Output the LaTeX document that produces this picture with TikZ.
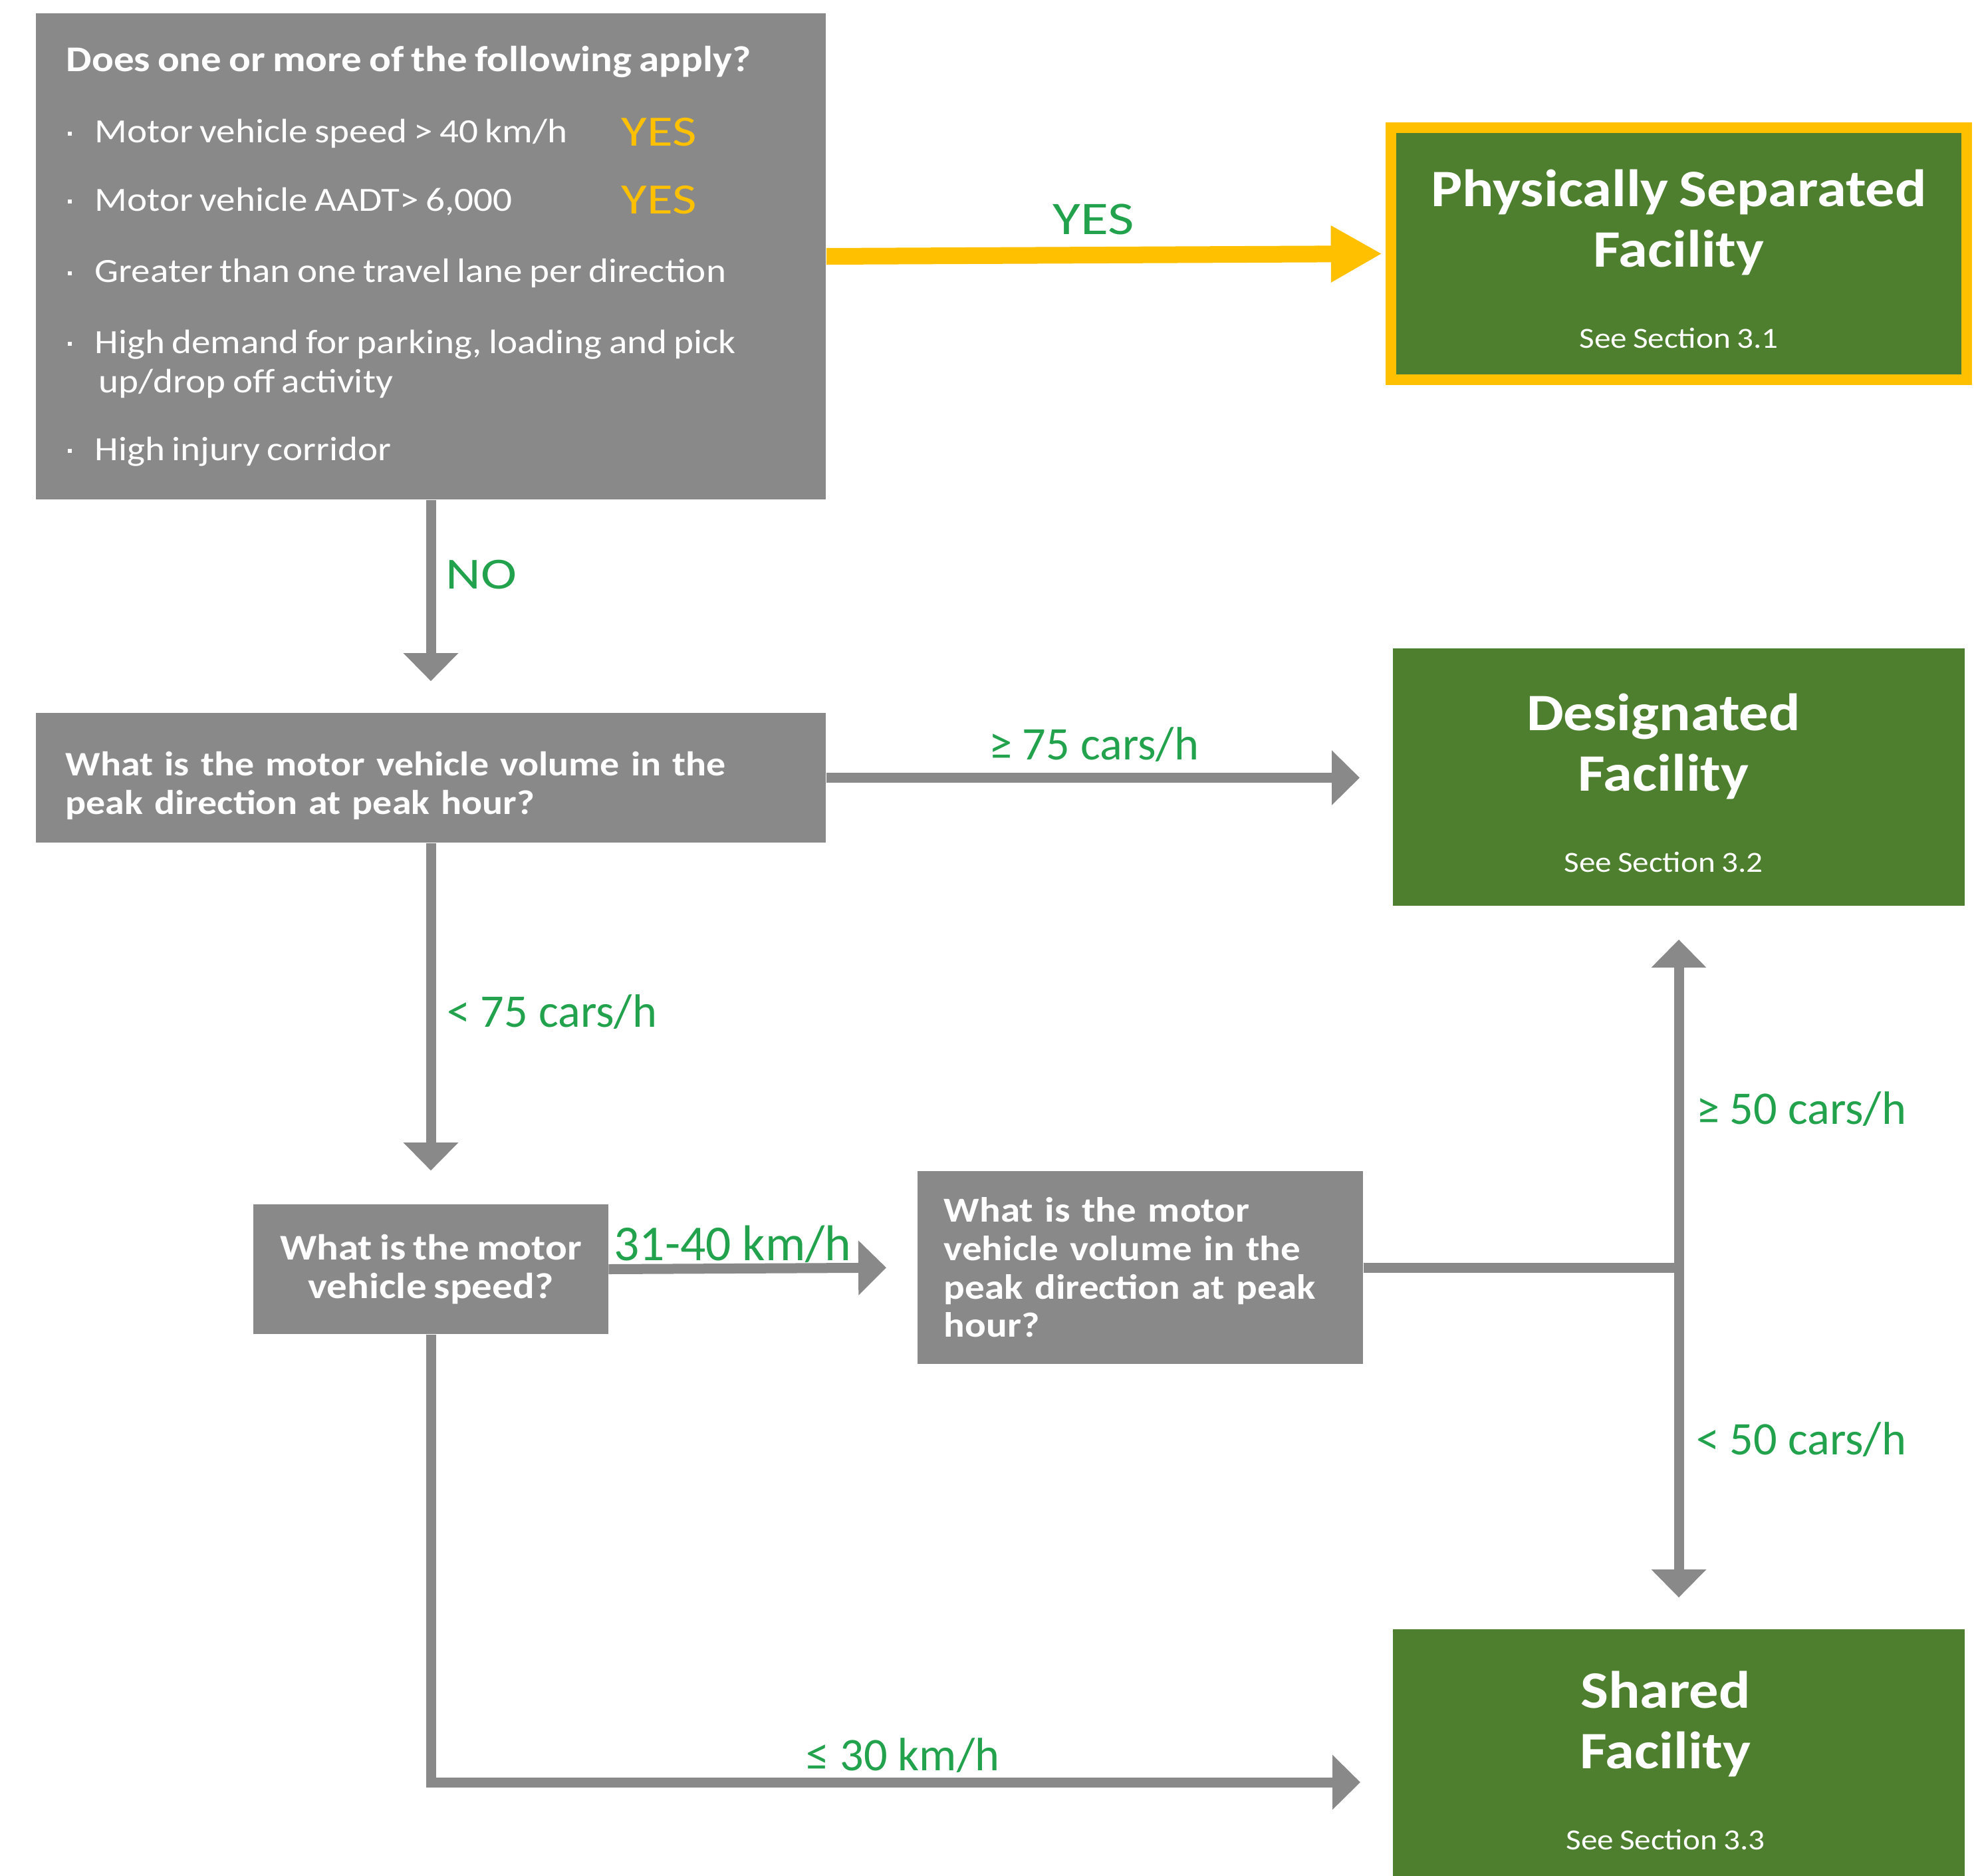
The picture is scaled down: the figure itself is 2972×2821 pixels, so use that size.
\documentclass[tikz,border=0pt]{standalone}
\usepackage{fontspec}
\setmainfont{Carlito}
\newfontfamily\boxfont{Carlito}[FakeStretch=1.12, WordSpace=0.8]
\newfontfamily\widefont{Carlito}[FakeStretch=1.22]
\usepackage{xcolor}
\usetikzlibrary{arrows.meta, positioning}

\definecolor{boxgray}{HTML}{898989}
\definecolor{facgreen}{HTML}{4D7F2E}
\definecolor{yesyellow}{HTML}{FFC000}
\definecolor{lblgreen}{HTML}{22A24C}

\newcommand{\sqbullet}{\llap{\raisebox{0.11cm}{\rule{0.06cm}{0.06cm}}\hspace{0.35cm}}}

\begin{document}
\begin{tikzpicture}[x=0.01cm, y=-0.01cm,
    qbox/.style={fill=boxgray, inner sep=0pt, text=white, font=\boxfont\fontsize{15}{16.4}\selectfont\bfseries},
    fac/.style={fill=facgreen, inner sep=0pt, minimum width=8.6cm},
    fac_title/.style={text=white, align=center, inner sep=0pt, font=\boxfont\fontsize{22.5}{26}\selectfont\bfseries},
    fac_sec/.style={text=white, inner sep=0pt, font=\boxfont\fontsize{12.5}{15}\selectfont},
    cond_item/.style={anchor=west, text=white, align=left, inner sep=0pt, font=\boxfont\fontsize{14.5}{16.8}\selectfont},
    yes_mark/.style={text=yesyellow, inner sep=0pt, font=\widefont\fontsize{18.5}{20}\selectfont},
    lbl/.style={text=lblgreen, inner sep=0pt, font=\fontsize{20}{24}\selectfont},
    flow_line/.style={draw=boxgray, line width=0.15cm},
    flow_arrow/.style={flow_line, -{Triangle[width=0.8cm, length=0.42cm]}},
    yes_arrow/.style={draw=yesyellow, line width=0.25cm, -{Triangle[width=0.8cm, length=0.77cm]}}
]
    \useasboundingbox (0, 0) rectangle (2972, 2821);

    % Question boxes
    \node (cond) [qbox, minimum width=11.88cm, minimum height=7.31cm] at (648, 385.5) {};
    \node (q_volume) [qbox, minimum width=11.88cm, minimum height=1.95cm, text width=10.98cm, align=left, inner xsep=0.45cm,
        font=\boxfont\fontsize{14.7}{16.4}\selectfont\bfseries] at (648, 1169.5)
        {\rule{0pt}{0.6cm}What is the motor vehicle volume in the\\peak direction at peak hour?};
    \node (q_speed) [qbox, minimum width=5.33cm, minimum height=1.95cm, align=center, font=\boxfont\fontsize{15.5}{16.4}\selectfont\bfseries] at (648, 1908.5)
        {What is the motor\\vehicle speed?};
    \node (q_split) [qbox, minimum width=6.7cm, minimum height=2.9cm, text width=5.9cm, align=left, inner xsep=0.4cm] at (1715, 1906)
        {What is the motor\\vehicle volume in the\\peak direction at peak\\hour?};

    % Conditions list
    \node (cond_head) [cond_item, font=\boxfont\fontsize{15.5}{16.8}\selectfont\bfseries] at (99, 93) {Does one or more of the following apply?};
    \node (cond_a) [cond_item] at (142, 201) {\sqbullet Motor vehicle speed > 40 km/h};
    \node (cond_b) [cond_item] at (142, 303) {\sqbullet Motor vehicle AADT> 6,000};
    \node (cond_c) [cond_item] at (142, 411) {\sqbullet Greater than one travel lane per direction};
    \node (cond_d) [cond_item] at (142, 547) {\sqbullet High demand for parking, loading and pick\\\hspace{0.06cm}up/drop off activity};
    \node (cond_e) [cond_item] at (142, 679) {\sqbullet High injury corridor};
    \node (yes_a) [yes_mark] at (991, 199) {YES};
    \node (yes_b) [yes_mark] at (991, 301) {YES};

    % Facility boxes
    \node (fac_sep) [fac, draw=yesyellow, line width=0.16cm, minimum width=8.66cm, minimum height=3.79cm] at (2525, 381.5) {};
    \node (fac_des) [fac, minimum height=3.87cm] at (2525, 1168.5) {};
    \node (fac_shr) [fac, minimum height=3.71cm] at (2525, 2635.5) {};

    \node (sep_title) [fac_title] at ([yshift=0.47cm]fac_sep.center) {Physically Separated\\Facility};
    \node (sep_sec) [fac_sec] at ([yshift=-1.27cm]fac_sep.center) {See Section 3.1};
    \node (des_title) [fac_title] at ([xshift=-0.23cm, yshift=0.46cm]fac_des.center) {Designated\\Facility};
    \node (des_sec) [fac_sec] at ([xshift=-0.23cm, yshift=-1.28cm]fac_des.center) {See Section 3.2};
    \node (shr_title) [fac_title] at ([xshift=-0.2cm, yshift=0.43cm]fac_shr.center) {Shared\\Facility};
    \node (shr_sec) [fac_sec] at ([xshift=-0.2cm, yshift=-1.31cm]fac_shr.center) {See Section 3.3};

    % Connectors
    \draw [yes_arrow, shorten >=0.05cm] (cond.east) -- (fac_sep.west);
    \draw [flow_arrow, shorten >=0.47cm] (cond.south) -- (q_volume.north);
    \draw [flow_arrow, shorten >=0.49cm] (q_volume.east) -- (q_volume.east -| fac_des.west);
    \draw [flow_arrow, shorten >=0.5cm] (q_volume.south) -- (q_speed.north);
    \draw [flow_arrow, shorten >=0.46cm] (q_speed.east) -- (q_split.west);
    \coordinate (split_pt) at (fac_des.south |- q_split.east);
    \draw [flow_line] (q_split.east) -- (split_pt);
    \draw [flow_arrow, shorten >=0.5cm] (split_pt) -- (fac_des.south);
    \draw [flow_arrow, shorten >=0.47cm] (split_pt) -- (fac_shr.north);
    \draw [flow_arrow, shorten >=0.48cm] (q_speed.south) |- ([yshift=-0.445cm]fac_shr.west);

    % Labels
    \node (lbl_yes) [lbl, font=\widefont\fontsize{20}{24}\selectfont] at (1645, 330) {YES};
    \node (lbl_no) [lbl, font=\widefont\fontsize{19}{24}\selectfont] at (724, 864) {NO};
    \node (lbl_ge75) [lbl] at (1645, 1120) {≥ 75 cars/h};
    \node (lbl_lt75) [lbl] at (830, 1522) {< 75 cars/h};
    \node (lbl_3140) [lbl, font=\fontsize{21.5}{24}\selectfont] at (1102, 1871) {31-40 km/h};
    \node (lbl_ge50) [lbl] at (2709, 1668) {≥ 50 cars/h};
    \node (lbl_lt50) [lbl] at (2709, 2165) {< 50 cars/h};
    \node (lbl_le30) [lbl] at (1358, 2640) {≤ 30 km/h};
\end{tikzpicture}
\end{document}
